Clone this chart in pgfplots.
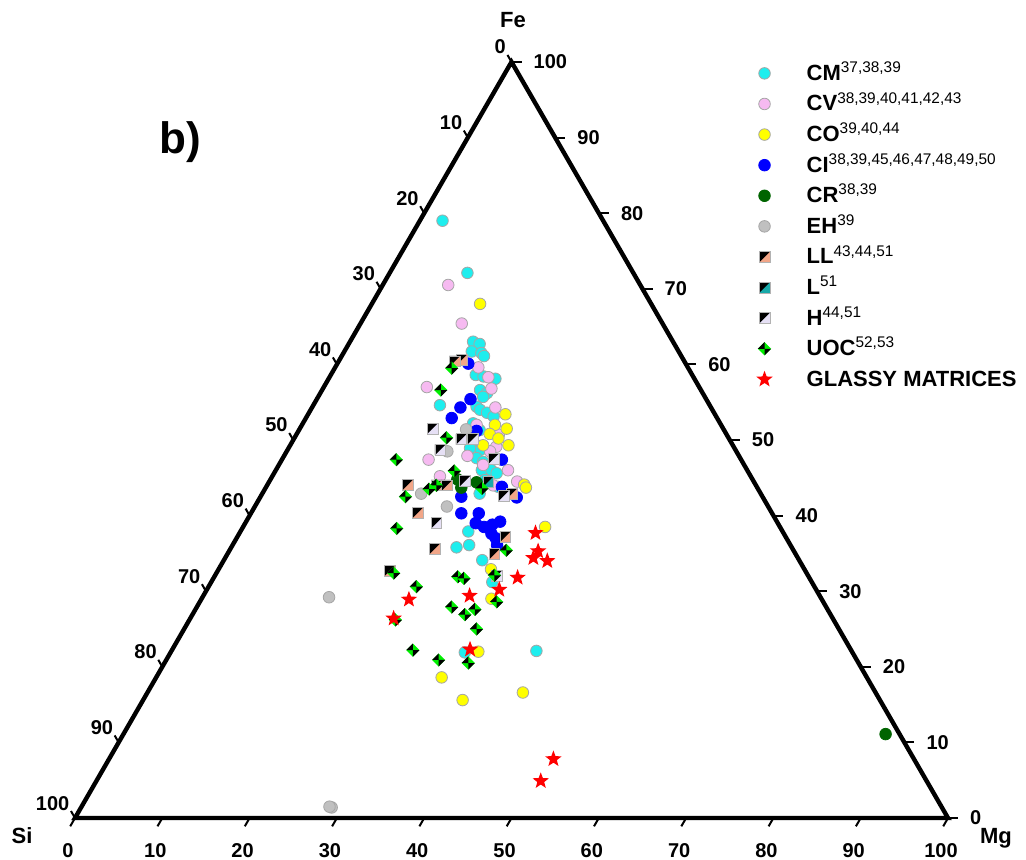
\documentclass[border=0pt]{standalone}
\usepackage{fontspec}
\setmainfont{Liberation Sans}
\usepackage{pgfplots}
\pgfplotsset{compat=1.18}
\usepackage{pgfplotstable}

\definecolor{cmcol}{RGB}{30,238,238}
\definecolor{cvcol}{RGB}{246,186,241}
\definecolor{cocol}{RGB}{255,255,0}
\definecolor{cicol}{RGB}{0,0,255}
\definecolor{crcol}{RGB}{0,100,0}
\definecolor{ehcol}{RGB}{192,192,192}
\definecolor{llcol}{RGB}{242,166,136}
\definecolor{lcol}{RGB}{25,170,170}
\definecolor{hcol}{RGB}{230,224,245}
\definecolor{uoccol}{RGB}{0,240,0}
\definecolor{glcol}{RGB}{255,0,0}

% square, upper-left half black
\pgfdeclareplotmark{halfsq}{%
  \pgfpathrectangle{\pgfqpoint{-\pgfplotmarksize}{-\pgfplotmarksize}}{\pgfqpoint{2\pgfplotmarksize}{2\pgfplotmarksize}}%
  \pgfusepathqfill
  \pgfscope
  \pgfpathmoveto{\pgfqpoint{-\pgfplotmarksize}{-\pgfplotmarksize}}%
  \pgfpathlineto{\pgfqpoint{-\pgfplotmarksize}{\pgfplotmarksize}}%
  \pgfpathlineto{\pgfqpoint{\pgfplotmarksize}{\pgfplotmarksize}}%
  \pgfpathclose
  \pgfsetfillcolor{black}%
  \pgfusepathqfill
  \endpgfscope
  \pgfpathrectangle{\pgfqpoint{-\pgfplotmarksize}{-\pgfplotmarksize}}{\pgfqpoint{2\pgfplotmarksize}{2\pgfplotmarksize}}%
  \pgfusepathqstroke
}
% diamond, two opposite quadrants black
\pgfdeclareplotmark{uoc}{%
  \pgfpathmoveto{\pgfqpoint{0pt}{\pgfplotmarksize}}%
  \pgfpathlineto{\pgfqpoint{\pgfplotmarksize}{0pt}}%
  \pgfpathlineto{\pgfqpoint{0pt}{-\pgfplotmarksize}}%
  \pgfpathlineto{\pgfqpoint{-\pgfplotmarksize}{0pt}}%
  \pgfpathclose
  \pgfusepathqfill
  \pgfscope
  \pgfsetfillcolor{black}%
  \pgfpathmoveto{\pgfqpoint{0pt}{0pt}}%
  \pgfpathlineto{\pgfqpoint{-\pgfplotmarksize}{0pt}}%
  \pgfpathlineto{\pgfqpoint{0pt}{\pgfplotmarksize}}%
  \pgfpathclose
  \pgfpathmoveto{\pgfqpoint{0pt}{0pt}}%
  \pgfpathlineto{\pgfqpoint{\pgfplotmarksize}{0pt}}%
  \pgfpathlineto{\pgfqpoint{0pt}{-\pgfplotmarksize}}%
  \pgfpathclose
  \pgfusepathqfill
  \endpgfscope
}
% filled five-point star
\pgfdeclareplotmark{fstar}{%
  \pgfpathmoveto{\pgfpointpolar{90}{\pgfplotmarksize}}%
  \pgfpathlineto{\pgfpointpolar{126}{0.42\pgfplotmarksize}}%
  \pgfpathlineto{\pgfpointpolar{162}{\pgfplotmarksize}}%
  \pgfpathlineto{\pgfpointpolar{198}{0.42\pgfplotmarksize}}%
  \pgfpathlineto{\pgfpointpolar{234}{\pgfplotmarksize}}%
  \pgfpathlineto{\pgfpointpolar{270}{0.42\pgfplotmarksize}}%
  \pgfpathlineto{\pgfpointpolar{306}{\pgfplotmarksize}}%
  \pgfpathlineto{\pgfpointpolar{342}{0.42\pgfplotmarksize}}%
  \pgfpathlineto{\pgfpointpolar{18}{\pgfplotmarksize}}%
  \pgfpathlineto{\pgfpointpolar{54}{0.42\pgfplotmarksize}}%
  \pgfpathclose
  \pgfusepathqfill
}

% ternary (Mg, Fe; Si = 100 - Mg - Fe) -> cartesian
\pgfplotsset{/pgfplots/table/tern/.style={x expr=\thisrow{Mg}+0.5*\thisrow{Fe}, y expr=0.8660254*\thisrow{Fe}}}
\newcommand\ticklab{\bfseries\fontsize{10}{12}\selectfont}

\pgfplotstableread{
Mg Fe
2.6 79.0
8.9 72.1
14.1 63.0
15.0 62.7
14.6 61.7
15.8 61.5
16.3 61.1
16.6 58.6
17.6 58.4
19.1 58.1
18.1 56.6
19.1 56.2
18.9 55.7
14.5 54.6
18.8 54.4
19.4 54.0
20.4 53.6
21.4 53.1
19.5 52.2
20.7 51.3
20.4 50.0
21.3 49.3
22.1 48.7
20.8 48.9
22.2 47.6
23.2 47.1
23.9 46.5
23.6 46.0
24.7 46.0
25.5 45.6
24.6 44.7
26.6 43.8
24.9 42.9
26.1 37.9
27.1 36.1
25.8 35.8
29.6 34.1
32.2 31.2
33.7 21.9
41.8 22.1
}\dataCM

\pgfplotstableread{
Mg Fe
7.5 70.5
11.6 65.4
16.4 59.6
18.2 58.3
11.8 57.0
19.3 56.8
21.0 54.3
20.0 52.0
23.2 50.7
23.7 49.1
23.3 48.5
21.0 47.9
16.8 47.4
23.4 46.7
26.6 46.0
19.2 45.2
28.4 44.5
25.9 44.0
}\dataCV

\pgfplotstableread{
Mg Fe
12.4 68.0
22.6 53.4
22.1 52.0
23.7 51.5
22.1 50.8
23.4 50.2
22.1 49.3
25.0 49.3
29.4 44.1
29.8 43.7
34.6 38.5
31.2 32.9
33.2 29.0
35.2 22.0
32.7 18.6
36.6 15.6
43.0 16.6
}\dataCO

\pgfplotstableread{
Mg Fe
15.0 60.1
17.6 55.4
17.0 54.3
16.7 52.9
20.4 51.2
25.2 47.4
27.0 43.8
29.4 42.4
23.0 42.5
24.1 40.3
26.1 40.3
26.4 39.0
27.6 38.5
28.4 38.8
29.1 39.2
28.9 37.6
29.7 37.0
30.3 36.1
}\dataCI

\pgfplotstableread{
Mg Fe
21.4 44.8
22.4 43.7
23.8 44.4
87.3 11.1
}\dataCR

\pgfplotstableread{
Mg Fe
14.5 29.2
28.7 1.4
28.4 1.5
19.1 51.4
18.4 48.5
18.2 42.9
22.0 41.2
}\dataEH

\pgfplotstableread{
Mg Fe
14.0 60.6
13.3 60.4
16.1 44.1
20.6 44.0
19.4 44.0
28.6 42.9
19.1 40.4
30.7 37.2
23.4 35.6
30.6 34.9
19.7 32.7
}\dataLL

\pgfplotstableread{
Mg Fe
25.1 44.5
}\dataL

\pgfplotstableread{
Mg Fe
15.2 51.5
19.2 50.1
20.5 50.1
17.5 48.7
24.2 47.5
22.4 44.6
27.8 42.6
21.9 39.0
32.3 32.0
}\dataH

\pgfplotstableread{
Mg Fe
13.4 59.5
13.6 56.6
17.4 50.3
13.1 47.4
20.5 45.9
19.4 44.0
18.8 43.5
24.8 43.6
16.6 42.5
17.7 38.3
31.7 35.4
20.3 32.4
23.8 30.6
27.9 31.9
28.7 31.7
34.0 28.6
29.2 27.9
31.2 26.9
32.0 27.6
33.5 25.0
27.6 22.2
31.2 20.9
34.8 20.5
23.6 26.2
32.0 32.1
}\dataUOC

\pgfplotstableread{
Mg Fe
33.9 37.7
35.4 35.3
35.3 34.4
37.1 34.0
34.8 31.8
33.5 30.2
30.5 29.4
23.8 28.9
23.3 26.4
34.1 22.3
50.9 7.8
50.9 4.9
}\dataGL

\begin{document}
\begin{tikzpicture}
\begin{axis}[
  scale only axis, width=513pt, height=429.5pt,
  xmin=-8.591, xmax=108.935, ymin=-4.696, ymax=93.70,
  hide axis, clip=false,
  legend cell align=left,
  legend style={at={(axis cs:78.0,86.6)}, anchor=north west,
    draw=none, fill=none, inner sep=0pt, row sep=4.3pt, column sep=17pt,
    font=\bfseries\fontsize{11}{13}\selectfont,
    nodes={inner sep=0pt, text height=9pt, text depth=2pt}},
]
% frame
\draw[line width=2.2pt, line join=miter, miter limit=20]
  (axis cs:0,0) -- (axis cs:100,0) -- (axis cs:50,86.60254) -- cycle;
% ticks and tick labels
\pgfplotsinvokeforeach{0,10,...,100}{
  % Si (left side)
  \draw[line width=1pt] (axis cs:{(100-#1)/2},{0.8660254*(100-#1)})
    -- (axis cs:{(100-#1)/2-0.46},{0.8660254*(100-#1)+0.80});
  \node[anchor=south east, inner sep=0pt, font=\ticklab]
    at (axis cs:{(100-#1)/2-0.6},{0.8660254*(100-#1)+0.85}) {#1};
  % Fe (right side)
  \draw[line width=1pt] (axis cs:{100-#1/2},{0.8660254*#1})
    -- (axis cs:{100-#1/2+1.15},{0.8660254*#1});
  \node[anchor=west, inner sep=0pt, font=\ticklab]
    at (axis cs:{100-#1/2+2.5},{0.8660254*#1}) {#1};
  % Mg (bottom)
  \draw[line width=1pt] (axis cs:#1,0) -- (axis cs:{#1-0.55},-0.95);
  \node[anchor=north, inner sep=0pt, font=\ticklab]
    at (axis cs:{#1-0.8},-2.85) {#1};
}

\addplot[only marks, mark=*, mark size=2.9pt,
  mark options={fill=cmcol, draw=black!35, line width=0.4pt}] table[tern] {\dataCM};
\addlegendentry{CM\textsuperscript{\mdseries 37,38,39}}
\addplot[only marks, mark=*, mark size=2.9pt,
  mark options={fill=cvcol, draw=black!35, line width=0.4pt}] table[tern] {\dataCV};
\addlegendentry{CV\textsuperscript{\mdseries 38,39,40,41,42,43}}
\addplot[only marks, mark=*, mark size=2.9pt,
  mark options={fill=cocol, draw=black!35, line width=0.4pt}] table[tern] {\dataCO};
\addlegendentry{CO\textsuperscript{\mdseries 39,40,44}}
\addplot[only marks, mark=*, mark size=2.9pt,
  mark options={fill=cicol, draw=cicol, line width=0.4pt}] table[tern] {\dataCI};
\addlegendentry{CI\textsuperscript{\mdseries 38,39,45,46,47,48,49,50}}
\addplot[only marks, mark=*, mark size=2.9pt,
  mark options={fill=crcol, draw=crcol, line width=0.4pt}] table[tern] {\dataCR};
\addlegendentry{CR\textsuperscript{\mdseries 38,39}}
\addplot[only marks, mark=*, mark size=2.9pt,
  mark options={fill=ehcol, draw=black!35, line width=0.4pt}] table[tern] {\dataEH};
\addlegendentry{EH\textsuperscript{\mdseries 39}}
\addplot[only marks, mark=halfsq, mark size=2.7pt,
  mark options={fill=llcol, draw=black!30, line width=0.4pt}] table[tern] {\dataLL};
\addlegendentry{LL\textsuperscript{\mdseries 43,44,51}}
\addplot[only marks, mark=halfsq, mark size=2.7pt,
  mark options={fill=lcol, draw=black!30, line width=0.4pt}] table[tern] {\dataL};
\addlegendentry{L\textsuperscript{\mdseries 51}}
\addplot[only marks, mark=halfsq, mark size=2.7pt,
  mark options={fill=hcol, draw=black!30, line width=0.4pt}] table[tern] {\dataH};
\addlegendentry{H\textsuperscript{\mdseries 44,51}}
\addplot[only marks, mark=uoc, mark size=3.3pt,
  mark options={fill=uoccol}] table[tern] {\dataUOC};
\addlegendentry{UOC\textsuperscript{\mdseries 52,53}}
\addplot[only marks, mark=fstar, mark size=4.3pt,
  mark options={fill=glcol}] table[tern] {\dataGL};
\addlegendentry{GLASSY MATRICES}

% corner labels and panel tag
\node[font=\bfseries\fontsize{11}{13}\selectfont] at (axis cs:50.17,91.4) {Fe};
\node[font=\bfseries\fontsize{11}{13}\selectfont] at (axis cs:-6.07,-2.06) {Si};
\node[font=\bfseries\fontsize{11}{13}\selectfont] at (axis cs:105.5,-2.29) {Mg};
\node[font=\bfseries\fontsize{22}{26}\selectfont] at (axis cs:12.03,77.43) {b)};
\end{axis}
\pgfresetboundingbox
\path[use as bounding box] (current axis.south west) rectangle (current axis.north east);
\end{tikzpicture}
\end{document}
